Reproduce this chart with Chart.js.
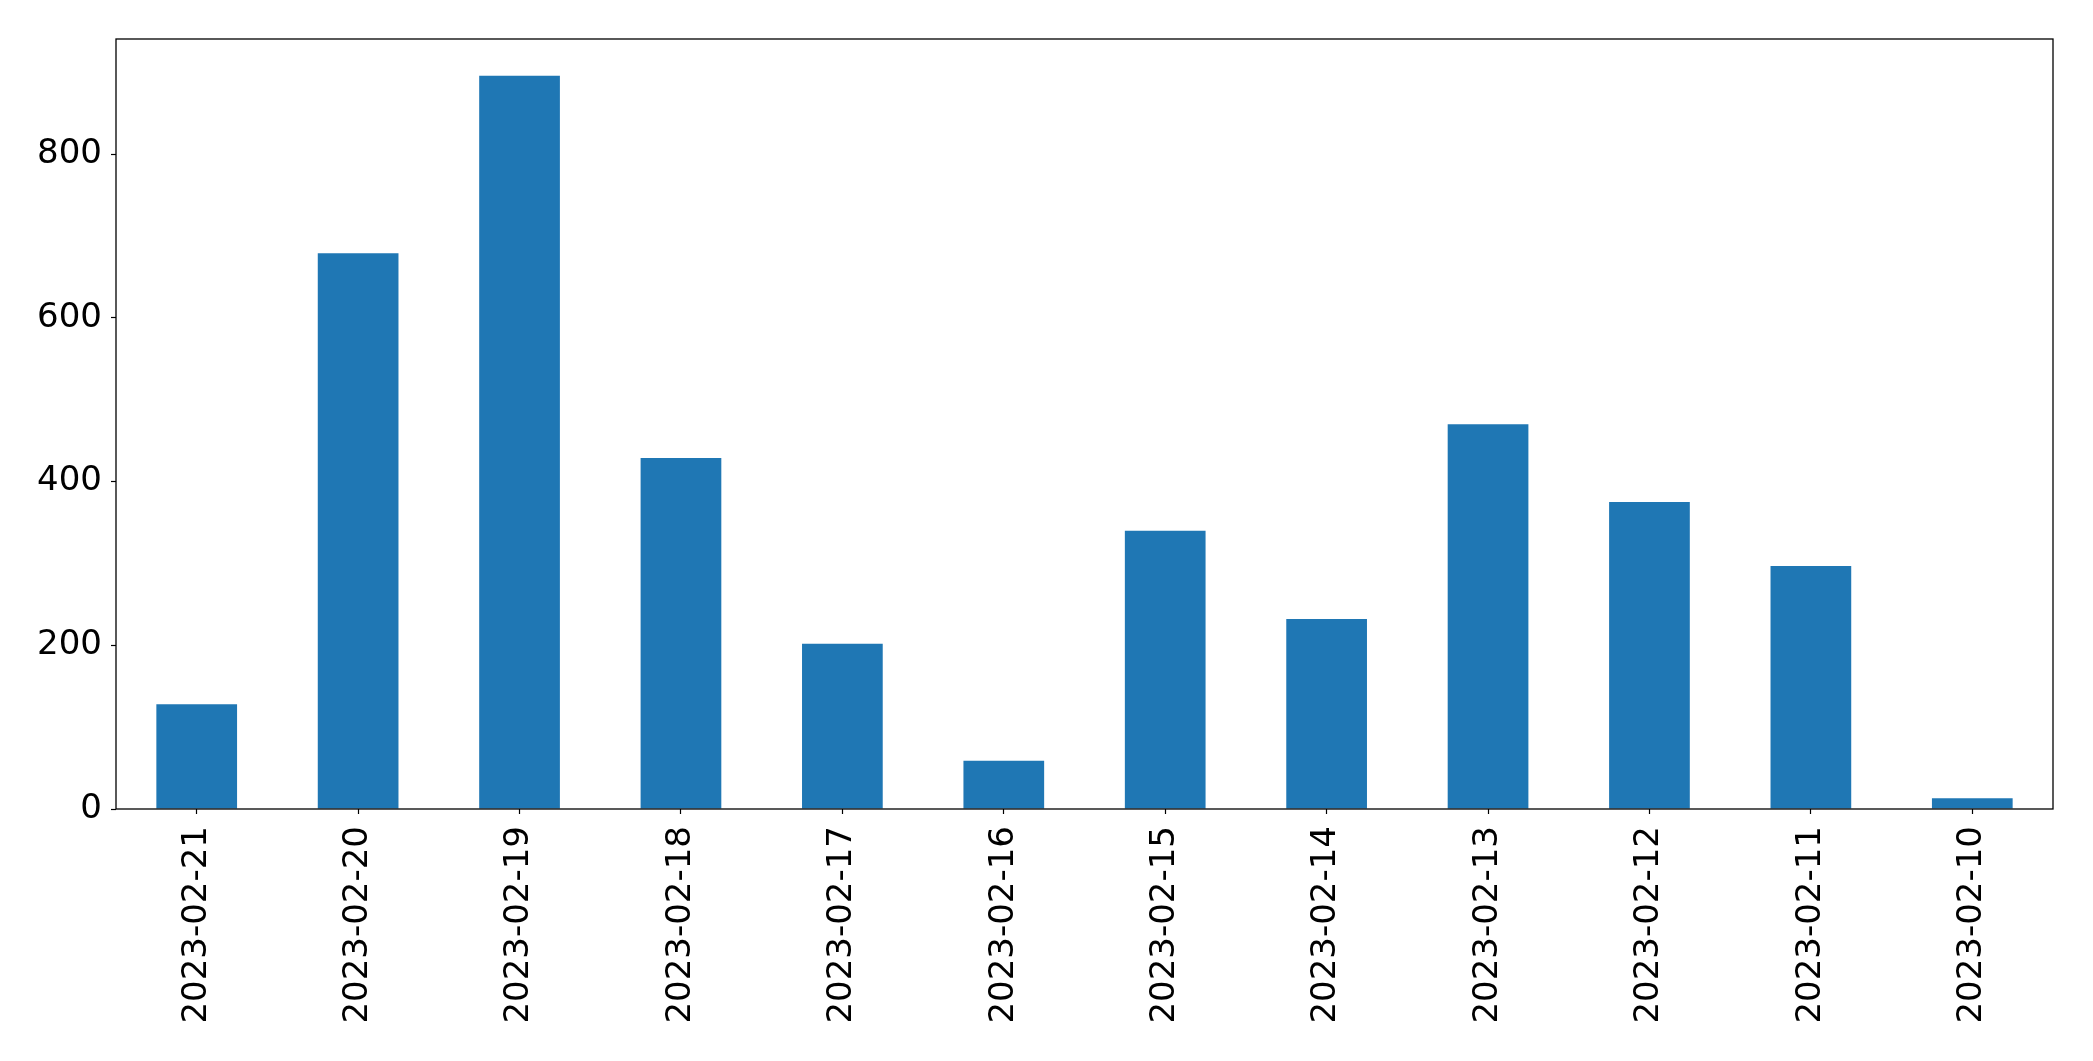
<!DOCTYPE html>
<html>
<head>
<meta charset="utf-8">
<script src="https://cdn.jsdelivr.net/npm/chart.js@4.4.0/dist/chart.umd.min.js"></script>
<style>
  html, body { margin: 0; padding: 0; background: #ffffff; }
  #wrap { width: 2093px; height: 1061px; }
</style>
</head>
<body>
<div id="wrap"><canvas id="barChart" width="2093" height="1061"></canvas></div>
<script>
const dates = ['2023-02-21', '2023-02-20', '2023-02-19', '2023-02-18', '2023-02-17', '2023-02-16',
               '2023-02-15', '2023-02-14', '2023-02-13', '2023-02-12', '2023-02-11', '2023-02-10'];
const counts = [128, 679, 896, 429, 202, 59, 340, 232, 470, 375, 297, 13];
const yTicks = [0, 200, 400, 600, 800];

// matplotlib leaves 5% headroom above the tallest bar
const yMax = Math.max(...counts) * 1.05;

const frame = {
    id: 'frame',
    afterDraw(chart) {
        const a = chart.chartArea;
        const ctx = chart.ctx;
        ctx.save();
        ctx.strokeStyle = '#000000';
        ctx.lineWidth = 1.3;
        ctx.strokeRect(a.left, a.top, a.right - a.left, a.bottom - a.top);
        ctx.restore();
    }
};

const ctx = document.getElementById('barChart').getContext('2d');

new Chart(ctx, {
    type: 'bar',
    data: {
        labels: dates,
        datasets: [{
            data: counts,
            backgroundColor: '#1f77b4',
            borderWidth: 0,
            barPercentage: 0.5,
            categoryPercentage: 1.0
        }]
    },
    options: {
        responsive: false,
        animation: false,
        layout: {
            padding: { left: 0, top: 39, right: 40, bottom: 0 }
        },
        scales: {
            x: {
                offset: true,
                grid: {
                    offset: false,
                    drawOnChartArea: false,
                    drawTicks: true,
                    tickLength: 5,
                    color: '#000000',
                    tickWidth: 1.2
                },
                border: { display: false },
                ticks: {
                    autoSkip: false,
                    maxRotation: 90,
                    minRotation: 90,
                    padding: 12,
                    color: '#000000',
                    font: { family: "'DejaVu Sans', sans-serif", size: 34 }
                },
                afterFit: function(scale) { scale.height = 252; }
            },
            y: {
                min: 0,
                max: yMax,
                grid: {
                    drawOnChartArea: false,
                    drawTicks: true,
                    tickLength: 5,
                    color: '#000000',
                    tickWidth: 1.2
                },
                border: { display: false },
                ticks: {
                    includeBounds: false,
                    padding: 9,
                    color: '#000000',
                    font: { family: "'DejaVu Sans', sans-serif", size: 34 }
                },
                afterBuildTicks: function(scale) {
                    scale.ticks = yTicks.map(v => ({ value: v }));
                },
                afterFit: function(scale) { scale.width = 116; }
            }
        },
        plugins: {
            legend: { display: false },
            tooltip: { enabled: false }
        }
    },
    plugins: [frame]
});
</script>
</body>
</html>
